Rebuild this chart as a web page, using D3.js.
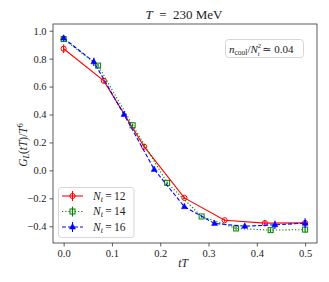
<!DOCTYPE html>
<html>
<head>
<meta charset="utf-8">
<script src="https://cdn.jsdelivr.net/npm/d3@7"></script>
<style>
  body { margin: 0; background: #fff; }
  text { font-family: "Liberation Serif", "DejaVu Serif", serif; }
</style>
</head>
<body>
<div id="chart"></div>
<script>
// tT values and G_L(tT)/T^6 for each lattice
var tT12 = [0, 1/12, 2/12, 3/12, 4/12, 5/12, 6/12];
var g12 = [0.871, 0.641, 0.17, -0.197, -0.357, -0.378, -0.376];
var e12 = [0.03, 0.015, 0.012, 0.01, 0.01, 0.022, 0.02];

var tT14 = [0, 1/14, 2/14, 3/14, 4/14, 5/14, 6/14, 7/14];
var g14 = [0.94, 0.75, 0.323, -0.089, -0.33, -0.416, -0.428, -0.424];
var e14 = [0.012, 0.012, 0.01, 0.01, 0.01, 0.012, 0.014, 0.02];

var tT16 = [0, 1/16, 2/16, 3/16, 4/16, 5/16, 6/16, 7/16, 8/16];
var g16 = [0.947, 0.777, 0.40, 0.007, -0.26, -0.38, -0.40, -0.39, -0.378];
var e16 = [0.022, 0.03, 0.012, 0.01, 0.01, 0.012, 0.015, 0.03, 0.035];

var xTicks = [0.0, 0.1, 0.2, 0.3, 0.4, 0.5];
var yTicks = [-0.4, -0.2, 0.0, 0.2, 0.4, 0.6, 0.8, 1.0];

var series = [
  { label: "12", x: tT12, y: g12, e: e12, color: "#ff0000", dash: null, marker: "circle" },
  { label: "14", x: tT14, y: g14, e: e14, color: "#008000", dash: "1.2,2", marker: "square" },
  { label: "16", x: tT16, y: g16, e: e16, color: "#0000ff", dash: "4,2", marker: "triangle" }
];

var width = 329, height = 282;
var pLeft = 53, pRight = 317, pTop = 24, pBottom = 243;

var svg = d3.select("#chart").append("svg")
  .attr("width", width)
  .attr("height", height);

var x = d3.scaleLinear().domain([-0.022, 0.5246]).range([pLeft, pRight]);
var y = d3.scaleLinear().domain([-0.52, 1.048]).range([pBottom, pTop]);

function fmt(v) {
  return d3.format(".1f")(v).replace("-", "\u2212");
}

var xAxis = svg.append("g")
  .attr("transform", "translate(0," + pBottom + ")")
  .call(d3.axisBottom(x).tickValues(xTicks).tickSize(3.5).tickPadding(3).tickFormat(fmt));
var yAxis = svg.append("g")
  .attr("transform", "translate(" + pLeft + ",0)")
  .call(d3.axisLeft(y).tickValues(yTicks).tickSize(3.5).tickPadding(3).tickFormat(fmt));

[xAxis, yAxis].forEach(function (a) {
  a.select(".domain").remove();
  a.selectAll("line").attr("stroke", "#333").attr("stroke-width", 0.8);
  a.selectAll("text").attr("fill", "#222").style("font-size", "10.5px")
    .style("font-family", "Liberation Serif, DejaVu Serif, serif");
});

svg.append("rect")
  .attr("x", pLeft).attr("y", pTop)
  .attr("width", pRight - pLeft).attr("height", pBottom - pTop)
  .attr("fill", "none").attr("stroke", "#333").attr("stroke-width", 0.8);

function drawMarker(g, type, cx, cy, color) {
  if (type == "circle") {
    g.append("circle").attr("cx", cx).attr("cy", cy).attr("r", 2.6)
      .attr("fill", "none").attr("stroke", color).attr("stroke-width", 1);
  } else if (type == "square") {
    g.append("rect").attr("x", cx - 2.5).attr("y", cy - 2.5).attr("width", 5).attr("height", 5)
      .attr("fill", "none").attr("stroke", color).attr("stroke-width", 1);
  } else {
    g.append("path")
      .attr("d", ["M", cx, cy - 3.4, "L", cx + 3, cy + 2, "L", cx - 3, cy + 2, "Z"].join(" "))
      .attr("fill", color).attr("stroke", color).attr("stroke-width", 0.5);
  }
}

var line = d3.line().x(function (d) { return x(d[0]); }).y(function (d) { return y(d[1]); });

series.forEach(function (s) {
  var g = svg.append("g");
  var pts = s.x.map(function (v, i) { return [v, s.y[i], s.e[i]]; });
  g.append("path")
    .attr("d", line(pts))
    .attr("fill", "none")
    .attr("stroke", s.color)
    .attr("stroke-width", 1.1)
    .attr("stroke-dasharray", s.dash);
  pts.forEach(function (p) {
    var cx = x(p[0]);
    g.append("line")
      .attr("x1", cx).attr("x2", cx)
      .attr("y1", y(p[1] - p[2])).attr("y2", y(p[1] + p[2]))
      .attr("stroke", s.color).attr("stroke-width", 1.1);
    drawMarker(g, s.marker, cx, y(p[1]), s.color);
  });
});

// legend
var lg = svg.append("g");
lg.append("rect")
  .attr("x", 58.5).attr("y", 187.5).attr("width", 75.5).attr("height", 50)
  .attr("rx", 3)
  .attr("fill", "#fff").attr("fill-opacity", 0.8)
  .attr("stroke", "#ccc").attr("stroke-width", 0.8);
series.forEach(function (s, i) {
  var ly = 196 + i * 15.5;
  lg.append("line")
    .attr("x1", 62).attr("x2", 83).attr("y1", ly).attr("y2", ly)
    .attr("stroke", s.color).attr("stroke-width", 1.1)
    .attr("stroke-dasharray", s.dash);
  lg.append("line")
    .attr("x1", 72.5).attr("x2", 72.5).attr("y1", ly - 5).attr("y2", ly + 5)
    .attr("stroke", s.color).attr("stroke-width", 1.1);
  drawMarker(lg, s.marker, 72.5, ly, s.color);
  var t = lg.append("text").attr("x", 93).attr("y", ly + 3.5)
    .style("font-size", "11.5px").attr("fill", "#222");
  t.append("tspan").attr("font-style", "italic").text("N");
  t.append("tspan").attr("font-style", "italic").attr("dy", 2).style("font-size", "8px").text("t");
  t.append("tspan").attr("dy", -2).text("\u2009=\u2009" + s.label);
});

// annotation box
svg.append("rect")
  .attr("x", 225.5).attr("y", 39.5).attr("width", 78).attr("height", 18)
  .attr("rx", 3)
  .attr("fill", "#fff").attr("stroke", "#ccc").attr("stroke-width", 0.8);
var at = svg.append("text").attr("x", 229).attr("y", 52.5)
  .style("font-size", "11px").attr("fill", "#222");
at.append("tspan").attr("font-style", "italic").text("n");
at.append("tspan").attr("dy", 2).style("font-size", "7.5px").text("cool");
at.append("tspan").attr("dy", -2).text("/");
at.append("tspan").attr("font-style", "italic").text("N");
at.append("tspan").attr("dy", -5).style("font-size", "6.5px").text("2");
at.append("tspan").attr("dx", -3.3).attr("dy", 8).attr("font-style", "italic").style("font-size", "6.5px").text("t");
at.append("tspan").attr("dy", -3).text(" \u2243 0.04");

// title
var tt = svg.append("text").attr("x", 184).attr("y", 19)
  .attr("text-anchor", "middle").style("font-size", "13px").attr("fill", "#222");
tt.append("tspan").attr("font-style", "italic").text("T");
tt.append("tspan").text("\u2002=\u2002230 MeV");

// axis labels
svg.append("text").attr("x", 183).attr("y", 267)
  .attr("text-anchor", "middle").style("font-size", "11.5px").attr("fill", "#222")
  .attr("font-style", "italic").text("tT");

var yl = svg.append("text")
  .attr("transform", "translate(27,145) rotate(-90)")
  .attr("text-anchor", "middle").style("font-size", "11.5px").attr("fill", "#222");
yl.append("tspan").attr("font-style", "italic").text("G");
yl.append("tspan").attr("font-style", "italic").attr("dy", 2).style("font-size", "8px").text("L");
yl.append("tspan").attr("dy", -2).text("(");
yl.append("tspan").attr("font-style", "italic").text("tT");
yl.append("tspan").text(")/");
yl.append("tspan").attr("font-style", "italic").text("T");
yl.append("tspan").attr("dy", -4).style("font-size", "8px").text("6");
</script>
</body>
</html>
